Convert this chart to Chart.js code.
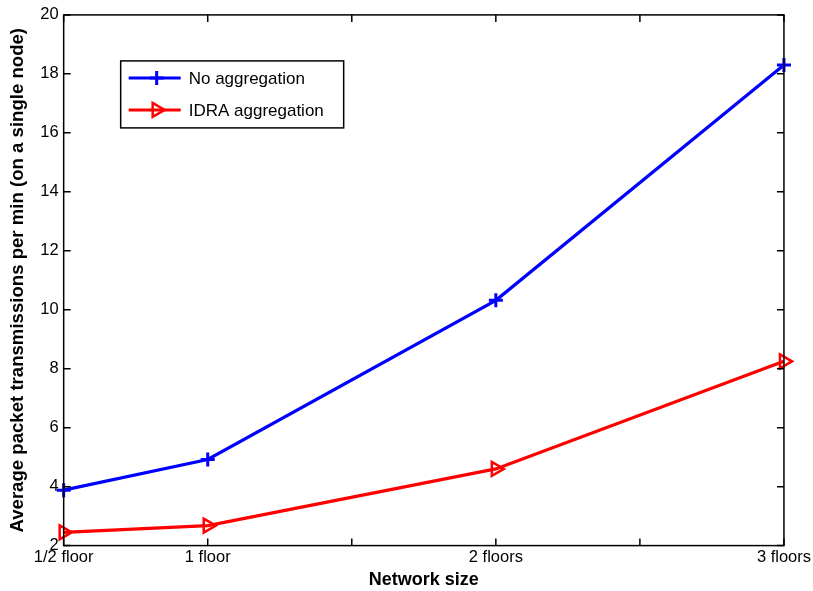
<!DOCTYPE html>
<html>
<head>
<meta charset="utf-8">
<script src="https://cdn.jsdelivr.net/npm/chart.js@4"></script>
<style>
  html, body { margin: 0; padding: 0; background: #fff; }
  #wrap { width: 813px; height: 591px; }
</style>
</head>
<body>
<div id="wrap"><canvas id="txChart" width="813" height="591"></canvas></div>
<script>
// network size in floors
const networkSize = [0.5, 1, 2, 3];
const noAggregation = [3.88, 4.92, 10.32, 18.3];
const idraAggregation = [2.45, 2.68, 4.6, 8.25];

const xTickValues = [0.5, 1, 2, 3];
const xTickLabels = ["1/2 floor", "1 floor", "2 floors", "3 floors"];
const yTicks = [2, 4, 6, 8, 10, 12, 14, 16, 18, 20];

const FONT = "'Liberation Sans', Arial, Helvetica, sans-serif";

function toPoints(values) {
    return networkSize.map((x, i) => ({ x: x, y: values[i] }));
}

// MATLAB style box: frame plus inward ticks on all four sides
const boxAxes = {
    id: "boxAxes",
    afterDatasetsDraw(chart) {
        const ctx = chart.ctx;
        const a = chart.chartArea;
        const xs = chart.scales.x;
        const ys = chart.scales.y;
        const len = 7;
        ctx.save();
        ctx.strokeStyle = "#000";
        ctx.lineWidth = 1.5;
        ctx.strokeRect(a.left, a.top, a.right - a.left, a.bottom - a.top);
        ctx.beginPath();
        xs.ticks.forEach(t => {
            const px = xs.getPixelForValue(t.value);
            ctx.moveTo(px, a.bottom);
            ctx.lineTo(px, a.bottom - len);
            ctx.moveTo(px, a.top);
            ctx.lineTo(px, a.top + len);
        });
        ys.ticks.forEach(t => {
            const py = ys.getPixelForValue(t.value);
            ctx.moveTo(a.left, py);
            ctx.lineTo(a.left + len, py);
            ctx.moveTo(a.right, py);
            ctx.lineTo(a.right - len, py);
        });
        ctx.stroke();
        ctx.restore();
    }
};

// boxed legend in the upper left of the plot
const boxLegend = {
    id: "boxLegend",
    afterDraw(chart) {
        const ctx = chart.ctx;
        const a = chart.chartArea;
        const left = a.left + 57;
        const top = a.top + 46;
        const w = 223;
        const h = 67;
        ctx.save();
        ctx.fillStyle = "#fff";
        ctx.fillRect(left, top, w, h);
        ctx.strokeStyle = "#000";
        ctx.lineWidth = 1.5;
        ctx.strokeRect(left, top, w, h);
        chart.data.datasets.forEach((ds, i) => {
            const cy = top + 17 + i * 32;
            ctx.strokeStyle = ds.borderColor;
            ctx.lineWidth = 3;
            ctx.beginPath();
            ctx.moveTo(left + 8, cy);
            ctx.lineTo(left + 60, cy);
            ctx.stroke();
            ctx.fillStyle = ds.pointBackgroundColor;
            ctx.strokeStyle = ds.pointBorderColor;
            ctx.lineWidth = ds.pointBorderWidth;
            Chart.helpers.drawPoint(ctx, {
                pointStyle: ds.pointStyle,
                radius: ds.pointRadius,
                rotation: ds.pointRotation || 0,
                borderWidth: ds.pointBorderWidth
            }, left + 36, cy);
            ctx.fillStyle = "#000";
            ctx.font = "17px " + FONT;
            ctx.textBaseline = "middle";
            ctx.fillText(ds.label, left + 68, cy + 1);
        });
        ctx.restore();
    }
};

const ctx = document.getElementById("txChart").getContext("2d");
const txChart = new Chart(ctx, {
    type: "line",
    data: {
        datasets: [
            {
                label: "No aggregation",
                data: toPoints(noAggregation),
                borderColor: "#0000ff",
                backgroundColor: "#0000ff",
                borderWidth: 3.2,
                pointStyle: "cross",
                pointRadius: 7,
                pointBorderWidth: 3,
                pointBackgroundColor: "#0000ff",
                pointBorderColor: "#0000ff",
            },
            {
                label: "IDRA aggregation",
                data: toPoints(idraAggregation),
                borderColor: "#ff0000",
                backgroundColor: "#ff0000",
                borderWidth: 3.2,
                pointStyle: "triangle",
                pointRotation: 90,
                pointRadius: 8,
                pointBorderWidth: 2.5,
                pointBackgroundColor: "rgba(255,255,255,0)",
                pointBorderColor: "#ff0000",
            },
        ],
    },
    options: {
        responsive: false,
        animation: false,
        clip: false,
        layout: { padding: { left: 7, right: 22, top: 10, bottom: 0 } },
        plugins: {
            legend: { display: false },
            tooltip: { enabled: false },
        },
        scales: {
            x: {
                type: "linear",
                min: 0.5,
                max: 3,
                grid: { display: false, drawTicks: false },
                border: { display: false },
                afterBuildTicks(scale) {
                    scale.ticks = [0.5, 1, 1.5, 2, 2.5, 3].map(v => ({ value: v }));
                },
                ticks: {
                    padding: 2,
                    maxRotation: 0,
                    autoSkip: false,
                    color: "#000",
                    font: { family: FONT, size: 16.5 },
                    callback(v) {
                        const i = xTickValues.indexOf(v);
                        return i >= 0 ? xTickLabels[i] : "";
                    },
                },
                title: {
                    display: true,
                    text: "Network size",
                    color: "#000",
                    padding: { top: 0, bottom: 0 },
                    font: { family: FONT, size: 18, weight: "bold" },
                },
            },
            y: {
                min: 2,
                max: 20,
                grid: { display: false, drawTicks: false },
                border: { display: false },
                afterBuildTicks(scale) {
                    scale.ticks = yTicks.map(v => ({ value: v }));
                },
                ticks: {
                    padding: 5,
                    color: "#000",
                    font: { family: FONT, size: 16.5 },
                },
                title: {
                    display: true,
                    text: "Average packet transmissions per min (on a single node)",
                    color: "#000",
                    padding: { top: 0, bottom: 6 },
                    font: { family: FONT, size: 18.6, weight: "bold" },
                },
            },
        },
    },
    plugins: [boxAxes, boxLegend],
});
</script>
</body>
</html>
